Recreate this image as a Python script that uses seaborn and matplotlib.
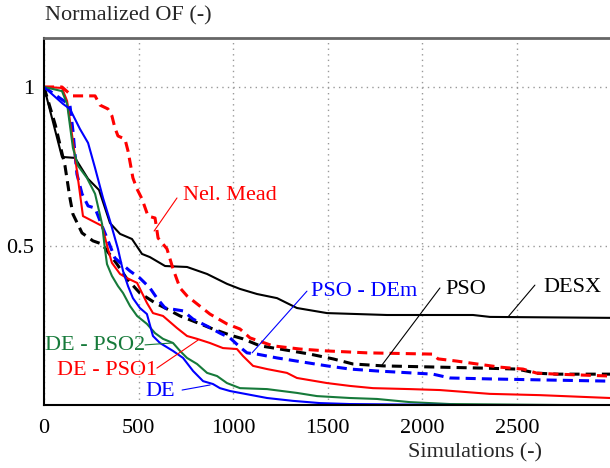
import pandas as pd
import numpy as np
import matplotlib
matplotlib.use('Agg')
import matplotlib.pyplot as plt
import seaborn as sns

# curves (simulations, normalized OF)
desx_x = [0, 95, 164, 233, 291, 349, 402, 465, 518, 560, 640, 756, 862, 967, 1036, 1126, 1232, 1337, 1496, 1813, 2268, 2357, 2992]
desx_y = [1.0, 0.78, 0.777, 0.711, 0.676, 0.572, 0.538, 0.522, 0.475, 0.465, 0.437, 0.434, 0.412, 0.381, 0.365, 0.349, 0.336, 0.305, 0.289, 0.283, 0.283, 0.277, 0.274]

pso_x = [0, 60, 111, 137, 153, 201, 259, 307, 386, 439, 507, 587, 650, 719, 788, 893, 983, 1052, 1142, 1247, 1406, 1528, 1633, 1792, 2093, 2320, 2500, 2606, 2712, 2992]
pso_y = [1.0, 0.88, 0.752, 0.651, 0.60, 0.541, 0.516, 0.506, 0.443, 0.396, 0.352, 0.321, 0.302, 0.280, 0.264, 0.239, 0.22, 0.208, 0.186, 0.176, 0.160, 0.145, 0.129, 0.123, 0.119, 0.116, 0.113, 0.10, 0.097, 0.097]

nm_x = [0, 95, 148, 270, 296, 338, 359, 375, 391, 428, 444, 470, 492, 518, 550, 587, 603, 650, 682, 719, 756, 809, 877, 967, 1036, 1089, 1210, 1353, 1496, 1707, 2056, 2083, 2183, 2289, 2410, 2532, 2606, 2712, 2992]
nm_y = [1.0, 1.0, 0.972, 0.972, 0.943, 0.931, 0.909, 0.871, 0.846, 0.836, 0.799, 0.714, 0.679, 0.648, 0.594, 0.588, 0.525, 0.491, 0.428, 0.368, 0.343, 0.318, 0.286, 0.255, 0.239, 0.211, 0.186, 0.176, 0.170, 0.164, 0.160, 0.145, 0.138, 0.129, 0.119, 0.113, 0.10, 0.097, 0.091]

psodem_x = [0, 137, 153, 164, 174, 201, 233, 270, 296, 333, 375, 455, 507, 560, 597, 640, 735, 788, 862, 930, 983, 1036, 1073, 1126, 1232, 1337, 1496, 1617, 1760, 2056, 2146, 2357, 2622, 2992]
psodem_y = [1.0, 0.943, 0.862, 0.789, 0.726, 0.664, 0.626, 0.619, 0.579, 0.525, 0.462, 0.421, 0.399, 0.368, 0.336, 0.305, 0.296, 0.270, 0.248, 0.226, 0.211, 0.182, 0.164, 0.160, 0.148, 0.138, 0.123, 0.113, 0.107, 0.097, 0.085, 0.082, 0.079, 0.075]

depso1_x = [0, 95, 122, 153, 174, 206, 307, 338, 359, 402, 439, 492, 544, 576, 629, 703, 756, 809, 877, 946, 1020, 1052, 1105, 1179, 1284, 1337, 1496, 1617, 1739, 1935, 2093, 2357, 2622, 2992]
depso1_y = [1.0, 0.997, 0.956, 0.830, 0.736, 0.594, 0.563, 0.491, 0.447, 0.412, 0.399, 0.384, 0.321, 0.289, 0.280, 0.242, 0.217, 0.208, 0.195, 0.179, 0.176, 0.154, 0.123, 0.113, 0.101, 0.085, 0.069, 0.060, 0.053, 0.050, 0.047, 0.035, 0.031, 0.022]

depso2_x = [0, 95, 122, 153, 180, 227, 270, 307, 322, 333, 359, 391, 418, 455, 492, 544, 587, 629, 682, 719, 756, 809, 862, 915, 967, 1036, 1179, 1337, 1443, 1617, 1760, 1935, 2146, 2728]
depso2_y = [1.0, 0.987, 0.947, 0.808, 0.752, 0.714, 0.664, 0.569, 0.491, 0.443, 0.406, 0.374, 0.352, 0.311, 0.280, 0.255, 0.226, 0.208, 0.195, 0.170, 0.148, 0.129, 0.101, 0.091, 0.069, 0.053, 0.050, 0.038, 0.028, 0.022, 0.019, 0.009, 0.003, 0.0]

de_x = [0, 100, 137, 190, 233, 270, 312, 349, 391, 402, 418, 444, 470, 507, 544, 576, 613, 682, 735, 788, 841, 893, 930, 983, 1036, 1179, 1316, 1459, 1617, 2172]
de_y = [1.0, 0.947, 0.931, 0.868, 0.824, 0.745, 0.651, 0.579, 0.491, 0.462, 0.421, 0.374, 0.336, 0.305, 0.286, 0.217, 0.195, 0.170, 0.148, 0.107, 0.075, 0.066, 0.053, 0.044, 0.038, 0.022, 0.013, 0.006, 0.003, 0.0]

series = [
    ('DESX', desx_x, desx_y, 'black', False),
    ('PSO', pso_x, pso_y, 'black', True),
    ('Nel. Mead', nm_x, nm_y, 'red', True),
    ('PSO - DEm', psodem_x, psodem_y, 'blue', True),
    ('DE - PSO1', depso1_x, depso1_y, 'red', False),
    ('DE - PSO2', depso2_x, depso2_y, '#167a3a', False),
    ('DE', de_x, de_y, 'blue', False),
]

sns.set_style('white')
plt.rcParams['font.family'] = ['Liberation Serif', 'DejaVu Serif']

fs = 16
fig = plt.figure(figsize=(6.1, 4.68), dpi=100)
ax = fig.add_axes([44 / 610, 63 / 468, 566 / 610, 367 / 468])

for name, xs, ys, col, dashed in series:
    d = pd.DataFrame({'x': xs, 'y': ys})
    if dashed:
        sns.lineplot(data=d, x='x', y='y', ax=ax, color=col, lw=2.2,
                     sort=False, estimator=None, linestyle=(0, (3.3, 2.0)))
    else:
        sns.lineplot(data=d, x='x', y='y', ax=ax, color=col, lw=1.5,
                     sort=False, estimator=None)

ax.set_xlim(0, 2992)
ax.set_ylim(0, 1.154)
ax.set_xticks([0, 500, 1000, 1500, 2000, 2500])
ax.set_yticks([0.5, 1])
ax.set_yticklabels(['0.5', '1'])
ax.tick_params(length=0, labelsize=fs, colors='black')
ax.tick_params(axis='x', pad=10)
ax.tick_params(axis='y', pad=7)
ax.grid(True, color='#999999', linestyle=(0, (1, 3)), lw=1)

ax.spines['right'].set_visible(False)
ax.spines['left'].set_color('black')
ax.spines['bottom'].set_color('black')
ax.spines['left'].set_linewidth(1.5)
ax.spines['bottom'].set_linewidth(1.5)
ax.spines['top'].set_color('#666666')
ax.spines['top'].set_linewidth(2)

ax.set_ylabel('')
ax.set_xlabel('Simulations (-)', fontsize=fs, va='center')
ax.xaxis.set_label_coords((475 - 44) / 566, (405 - 453) / 367)
fig.text(45 / 610, 1 - 16 / 468, 'Normalized OF (-)', fontsize=fs, va='center', ha='left')

# labels with leader lines
notes = [
    ('Nel. Mead', 'red', (735, 0.66), 'left', (703, 0.651), (582, 0.547)),
    ('PSO - DEm', 'blue', (1411, 0.358), 'left', (1390, 0.358), (1100, 0.164)),
    ('PSO', 'black', (2120, 0.362), 'left', (2093, 0.368), (1787, 0.126)),
    ('DESX', 'black', (2638, 0.368), 'left', (2595, 0.377), (2453, 0.277)),
    ('DE - PSO2', '#167a3a', (534, 0.186), 'right', (534, 0.189), (677, 0.195)),
    ('DE - PSO1', 'red', (597, 0.110), 'right', (597, 0.116), (814, 0.204)),
    ('DE', 'blue', (692, 0.041), 'right', (730, 0.047), (878, 0.063)),
]
for txt, col, pos, ha, p0, p1 in notes:
    ax.text(pos[0], pos[1], txt, color=col, fontsize=fs, ha=ha, va='center')
    ax.annotate('', xy=p1, xytext=p0,
                arrowprops=dict(arrowstyle='-', color=col, lw=0.8, shrinkA=0, shrinkB=0))

fig.savefig('out.png', dpi=100)
